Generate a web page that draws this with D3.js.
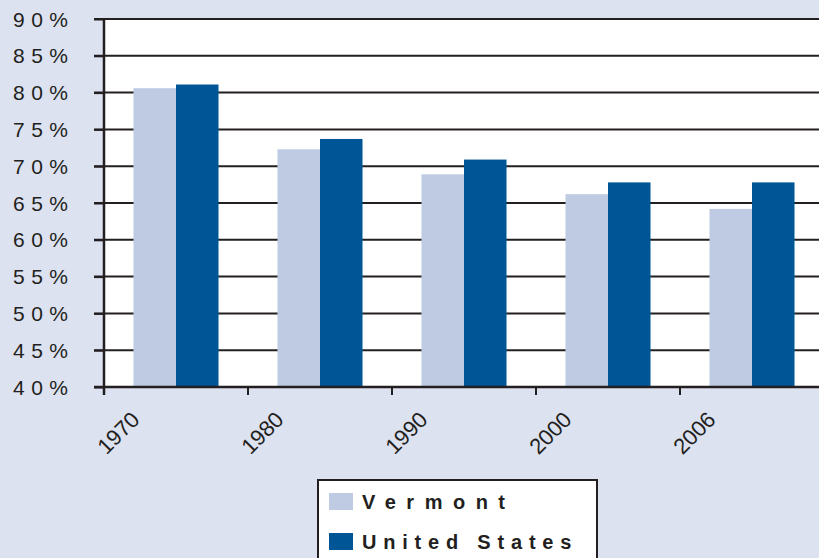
<!DOCTYPE html>
<html>
<head>
<meta charset="utf-8">
<script src="https://cdn.jsdelivr.net/npm/d3@7/dist/d3.min.js"></script>
<style>
  html, body { margin: 0; padding: 0; background: #DCE2F0; }
  svg { display: block; }
</style>
</head>
<body>
<svg id="chart" width="819" height="558"></svg>
<script>
const categories = ["1970", "1980", "1990", "2000", "2006"];
const seriesNames = ["Vermont", "United States"];
const vermont = [80.6, 72.3, 68.9, 66.2, 64.2];
const unitedStates = [81.1, 73.7, 70.9, 67.8, 67.8];
const yTicks = [40, 45, 50, 55, 60, 65, 70, 75, 80, 85, 90];
const colors = ["#BFCBE3", "#005596"];

const svg = d3.select("#chart");
const W = 819, H = 558;
const mLeft = 104, mTop = 19, mBottom = 387, mRight = 824;

svg.append("rect").attr("width", W).attr("height", H).attr("fill", "#DCE2F0");

const x0 = d3.scaleBand().domain(categories).range([mLeft, mRight]).padding(0);
const x1 = d3.scaleBand().domain(seriesNames).range([0, x0.bandwidth()])
  .paddingInner(0).paddingOuter(0.694);
const y = d3.scaleLinear().domain([40, 90]).range([mBottom, mTop]);

// plot area
svg.append("rect").attr("x", mLeft).attr("y", mTop)
  .attr("width", W - mLeft).attr("height", mBottom - mTop).attr("fill", "#ffffff");

// gridlines
svg.append("g").selectAll("line").data(yTicks.filter(d => d > 40)).join("line")
  .attr("x1", mLeft - 10).attr("x2", W)
  .attr("y1", d => y(d)).attr("y2", d => y(d))
  .attr("stroke", "#231f20").attr("stroke-width", 2);

// bars
const data = categories.map((c, i) => ({ c, vals: [vermont[i], unitedStates[i]] }));
const groups = svg.append("g").selectAll("g").data(data).join("g")
  .attr("transform", d => `translate(${x0(d.c)},0)`);
groups.selectAll("rect").data(d => d.vals.map((v, j) => ({ s: seriesNames[j], v, j }))).join("rect")
  .attr("x", d => x1(d.s))
  .attr("width", x1.bandwidth())
  .attr("y", d => y(d.v))
  .attr("height", d => y(40) - y(d.v))
  .attr("fill", d => colors[d.j]);

// axes
const yAxis = d3.axisLeft(y).tickValues(yTicks).tickSize(10).tickFormat("");
const ya = svg.append("g").attr("transform", `translate(${mLeft},0)`).call(yAxis);
ya.select(".domain").remove();
ya.selectAll(".tick line").attr("stroke", "#231f20").attr("stroke-width", 2);
svg.append("line").attr("x1", mLeft).attr("x2", mLeft).attr("y1", mTop - 1).attr("y2", mBottom + 8)
  .attr("stroke", "#231f20").attr("stroke-width", 2.5);
svg.append("line").attr("x1", mLeft - 10).attr("x2", W).attr("y1", mBottom).attr("y2", mBottom)
  .attr("stroke", "#231f20").attr("stroke-width", 2.5);

// y labels
svg.append("g").selectAll("text").data(yTicks).join("text")
  .attr("x", 68 + 6.5).attr("y", d => y(d) + 7.5)
  .attr("text-anchor", "end")
  .attr("font-family", "Liberation Sans, Arial, sans-serif")
  .attr("font-size", 21)
  .attr("letter-spacing", 6.5)
  .attr("fill", "#231f20")
  .text(d => d + "%");

// x ticks + labels
const xt = svg.append("g");
xt.selectAll("line").data(categories).join("line")
  .attr("x1", d => x0(d)).attr("x2", d => x0(d))
  .attr("y1", mBottom).attr("y2", mBottom + 8)
  .attr("stroke", "#231f20").attr("stroke-width", 2);
xt.selectAll("text").data(categories).join("text")
  .attr("transform", d => `translate(${x0(d) + 37},${421}) rotate(-45)`)
  .attr("text-anchor", "end")
  .attr("font-family", "Liberation Sans, Arial, sans-serif")
  .attr("font-size", 22)
  .attr("fill", "#231f20")
  .text(d => d);

// legend
const lg = svg.append("g");
lg.append("rect").attr("x", 318).attr("y", 480).attr("width", 279).attr("height", 90)
  .attr("fill", "#ffffff").attr("stroke", "#231f20").attr("stroke-width", 2);
const items = lg.selectAll("g").data(seriesNames).join("g")
  .attr("transform", (d, i) => `translate(0,${i * 40})`);
items.append("rect").attr("x", 329).attr("y", 493).attr("width", 24).attr("height", 17)
  .attr("fill", (d, i) => colors[i]);
items.append("text").attr("x", 362).attr("y", 509)
  .attr("font-family", "Liberation Sans, Arial, sans-serif")
  .attr("font-weight", "bold").attr("font-size", 20)
  .attr("letter-spacing", (d, i) => i === 0 ? 10.5 : 6.8)
  .attr("fill", "#231f20")
  .text(d => d);
</script>
</body>
</html>
